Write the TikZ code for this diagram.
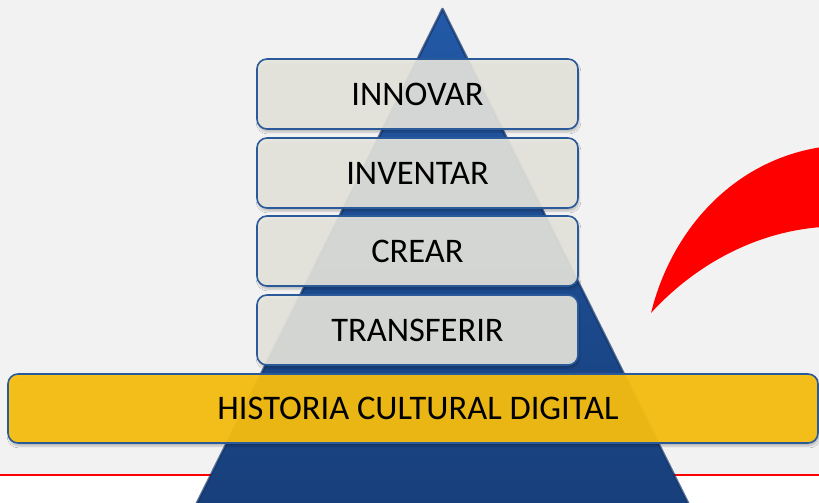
\documentclass[tikz,border=0pt]{standalone}
\usepackage{fontspec}
\setmainfont{Carlito}
\usetikzlibrary{shadows.blur}
\definecolor{bggray}{HTML}{F2F2F2}
\definecolor{pyrtop}{HTML}{2259A6}
\definecolor{pyrbot}{HTML}{173F7B}
\definecolor{pyredge}{HTML}{12346A}
\definecolor{boxfill}{HTML}{E8E7DE}
\definecolor{boxedge}{HTML}{2A5A9A}
\definecolor{barfill}{HTML}{F7BF10}
\definecolor{crescent}{HTML}{FF0000}
\tikzset{
  levelbox/.style={draw=boxedge, line width=1.6pt, fill=boxfill, fill opacity=0.9,
    text opacity=1, rounded corners=10pt, minimum width=321pt, minimum height=70pt,
    inner sep=0pt, font=\fontsize{34.5}{40}\selectfont, text=black,
    blur shadow={shadow xshift=1pt, shadow yshift=-3pt, shadow blur steps=5, shadow opacity=25}},
  basebar/.style={levelbox, fill=barfill, fill opacity=0.94, minimum width=810pt, minimum height=69pt}
}
\begin{document}
\begin{tikzpicture}[x=1pt,y=-1pt]
\useasboundingbox (0,0) rectangle (819,503);
\clip (0,0) rectangle (819,503);
\fill[bggray] (0,0) rectangle (819,476);
\fill[white] (0,476) rectangle (819,503);
\draw[crescent, line width=2pt] (0,475) -- (819,475);
% red crescent
\fill[crescent] (651,313) .. controls (672,228) and (735,160) .. (822,147)
  -- (822,227) .. controls (752,232) and (692,268) .. (651,313) -- cycle;
% pyramid
\coordinate (apex) at (442.5,9);
\coordinate (bl) at (195,507);
\coordinate (br) at (690,507);
\shade[top color=pyrtop, bottom color=pyrbot] (apex) -- (br) -- (bl) -- cycle;
\draw[pyredge, line width=2.5pt, line join=round, opacity=0.7] (apex) -- (br) -- (bl) -- cycle;
% levels
\node[levelbox] (innovar) at (417.5,94) {INNOVAR};
\node[levelbox] (inventar) at (417.5,173) {INVENTAR};
\node[levelbox] (crear) at (417.5,251) {CREAR};
\node[levelbox] (transferir) at (417.5,330) {TRANSFERIR};
\node[basebar] (historia) at (413,408.5) {\hspace*{10pt}HISTORIA CULTURAL DIGITAL};
\end{tikzpicture}
\end{document}
